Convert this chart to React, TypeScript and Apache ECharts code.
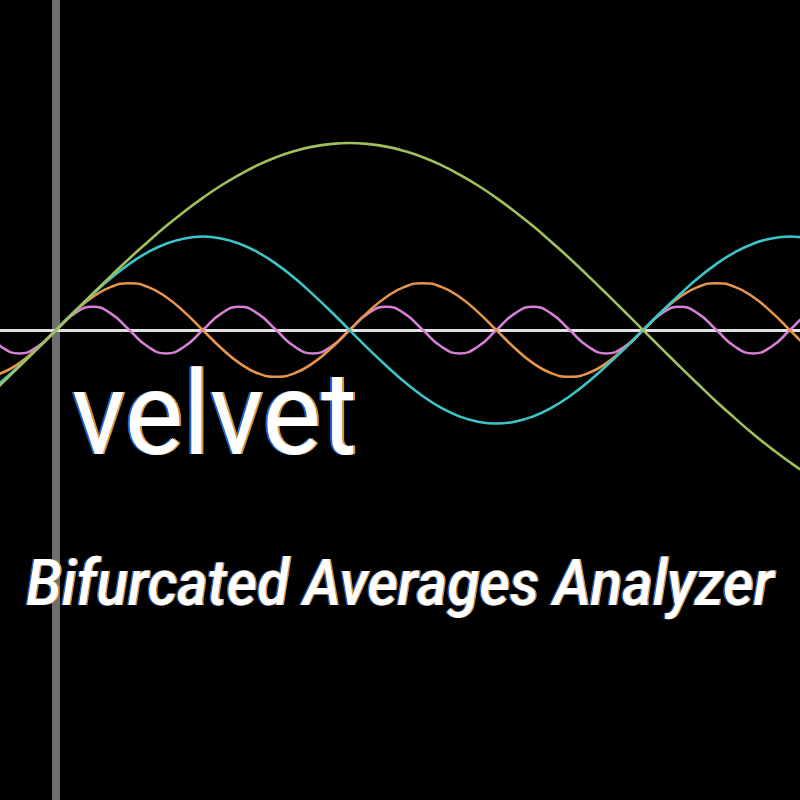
import React, { useEffect, useRef } from "react";
import * as echarts from "echarts";

// phase positions (degrees of the slowest wave)
const xs = [
  -22.5, -16.875, -11.25, -5.625, 0, 5.625, 11.25, 16.875, 22.5, 28.125, 33.75, 39.375,
  45, 50.625, 56.25, 61.875, 67.5, 73.125, 78.75, 84.375, 90, 95.625, 101.25, 106.875,
  112.5, 118.125, 123.75, 129.375, 135, 140.625, 146.25, 151.875, 157.5, 163.125, 168.75,
  174.375, 180, 185.625, 191.25, 196.875, 202.5, 208.125, 213.75, 219.375, 225, 230.625, 236.25,
];

const green = [
  -0.383, -0.29, -0.195, -0.098, 0, 0.098, 0.195, 0.29, 0.383, 0.471, 0.556, 0.634,
  0.707, 0.773, 0.831, 0.882, 0.924, 0.957, 0.981, 0.995, 1, 0.995, 0.981, 0.957,
  0.924, 0.882, 0.831, 0.773, 0.707, 0.634, 0.556, 0.471, 0.383, 0.29, 0.195,
  0.098, 0, -0.098, -0.195, -0.29, -0.383, -0.471, -0.556, -0.634, -0.707, -0.773, -0.831,
];

const cyan = [
  -0.354, -0.278, -0.191, -0.098, 0, 0.098, 0.191, 0.278, 0.354, 0.416, 0.462, 0.49,
  0.5, 0.49, 0.462, 0.416, 0.354, 0.278, 0.191, 0.098, 0, -0.098, -0.191, -0.278,
  -0.354, -0.416, -0.462, -0.49, -0.5, -0.49, -0.462, -0.416, -0.354, -0.278, -0.191,
  -0.098, 0, 0.098, 0.191, 0.278, 0.354, 0.416, 0.462, 0.49, 0.5, 0.49, 0.462,
];

const orange = [
  -0.25, -0.231, -0.177, -0.096, 0, 0.096, 0.177, 0.231, 0.25, 0.231, 0.177, 0.096,
  0, -0.096, -0.177, -0.231, -0.25, -0.231, -0.177, -0.096, 0, 0.096, 0.177, 0.231,
  0.25, 0.231, 0.177, 0.096, 0, -0.096, -0.177, -0.231, -0.25, -0.231, -0.177,
  -0.096, 0, 0.096, 0.177, 0.231, 0.25, 0.231, 0.177, 0.096, 0, -0.096, -0.177,
];

const magenta = [
  0, -0.088, -0.125, -0.088, 0, 0.088, 0.125, 0.088, 0, -0.088, -0.125, -0.088,
  0, 0.088, 0.125, 0.088, 0, -0.088, -0.125, -0.088, 0, 0.088, 0.125, 0.088,
  0, -0.088, -0.125, -0.088, 0, 0.088, 0.125, 0.088, 0, -0.088, -0.125,
  -0.088, 0, 0.088, 0.125, 0.088, 0, -0.088, -0.125, -0.088, 0, 0.088, 0.125,
];

const title = "velvet";
const subtitle = "Bifurcated Averages Analyzer";

function fringeText(
  text: string, x: number, y: number, size: number, sx: number,
  italic: boolean, weight: number, off: number
) {
  const base = {
    fontFamily: "Roboto",
    fontSize: size,
    fontStyle: italic ? "italic" : "normal",
    fontWeight: weight,
    align: "left",
    verticalAlign: "top",
  };
  return [
    { type: "text", x: x - off, y, scaleX: sx, z: 10, style: { ...base, text, fill: "#1a66d6" } },
    { type: "text", x: x + off, y, scaleX: sx, z: 11, style: { ...base, text, fill: "#e0902e" } },
    { type: "text", x, y, scaleX: sx, z: 12, style: { ...base, text, fill: "#ffffff" } },
  ];
}

export default function App() {
  const ref = useRef<HTMLDivElement>(null);
  useEffect(() => {
    if (!ref.current) return;
    const chart = echarts.init(ref.current, null, { renderer: "svg" });
    const mk = (vals: number[]) => xs.map((x, i) => [x, vals[i]]);
    const line = (name: string, vals: number[], color: string, z: number) => ({
      name,
      type: "line",
      data: mk(vals),
      smooth: 0.5,
      symbol: "none",
      z,
      lineStyle: { color, width: 2.6 },
    });
    chart.setOption({
      animation: false,
      backgroundColor: "#000000",
      grid: { left: 0, right: 0, top: 0, bottom: 0 },
      xAxis: {
        type: "value",
        min: -17.17,
        max: 228.1,
        axisLine: { show: true, onZero: true, lineStyle: { color: "#e0e0e0", width: 3 } },
        axisTick: { show: false },
        axisLabel: { show: false },
        splitLine: { show: false },
      },
      yAxis: {
        type: "value",
        min: -2.513,
        max: 1.765,
        axisLine: { show: true, onZero: true, lineStyle: { color: "#6e6e6e", width: 8 } },
        axisTick: { show: false },
        axisLabel: { show: false },
        splitLine: { show: false },
      },
      series: [
        line("magenta", magenta, "#d77fd6", 2),
        line("orange", orange, "#e6954a", 3),
        line("cyan", cyan, "#3cc4c8", 4),
        line("green", green, "#9fc15c", 5),
      ],
      graphic: [
        ...fringeText(title, 72, 357, 116, 0.95, false, 400, 2),
        ...fringeText(subtitle, 26, 550, 65, 0.9, true, 500, 1.5),
      ],
    });
    return () => chart.dispose();
  }, []);
  return (
    <div
      ref={ref}
      style={{ position: "fixed", left: 0, top: 0, width: 800, height: 800, background: "#000" }}
    />
  );
}
